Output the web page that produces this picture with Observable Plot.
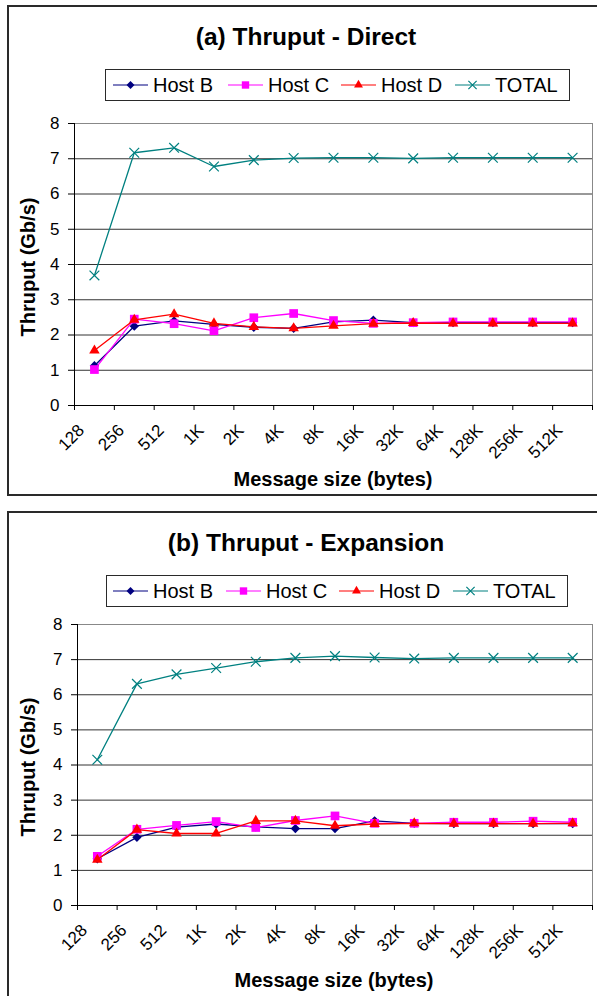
<!DOCTYPE html>
<html>
<head>
<meta charset="utf-8">
<script src="https://cdn.jsdelivr.net/npm/d3@7"></script>
<script src="https://cdn.jsdelivr.net/npm/@observablehq/plot@0.6"></script>
<style>
  html, body { margin: 0; padding: 0; background: #fff; }
  body { width: 597px; height: 996px; overflow: hidden; position: relative; font-family: "Liberation Sans", Arial, sans-serif; color: #000; }
  .panel { position: absolute; left: 7px; width: 600px; border: 2px solid #2a2a2a; box-sizing: border-box; }
  .title { position: absolute; font-weight: bold; font-size: 24.5px; transform: translate(-50%, -50%); white-space: nowrap; }
  .xtitle { position: absolute; font-weight: bold; font-size: 20px; transform: translate(-50%, -50%); white-space: nowrap; }
  .ytitle { position: absolute; font-weight: bold; font-size: 20px; transform: translate(-50%, -50%) rotate(-90deg); white-space: nowrap; }
  .legend { position: absolute; border: 1px solid #2a2a2a; box-sizing: border-box; background: #fff; }
  .entry { position: absolute; top: 0; height: 100%; display: flex; align-items: center; font-size: 20px; white-space: nowrap; }
  .entry svg { margin-right: 5px; }
  .chart { position: absolute; left: 0; }
</style>
</head>
<body>
<div class="panel" style="top:5px;height:491px;"></div>
<div class="panel" style="top:511px;height:500px;"></div>
<div id="root"></div>
<script>
// ---- data ----
const sizes = ["128", "256", "512", "1K", "2K", "4K", "8K", "16K", "32K", "64K", "128K", "256K", "512K"];
const seriesNames = ["Host B", "Host C", "Host D", "TOTAL"];
const seriesColors = ["#000080", "#FF00FF", "#FF0000", "#008080"];
const seriesSymbols = ["diamond2", "square", "triangle", "times"];
const yTicks = [0, 1, 2, 3, 4, 5, 6, 7, 8];

const directTitle = "(a) Thruput - Direct";
const directHostB = [1.13, 2.25, 2.40, 2.30, 2.22, 2.19, 2.37, 2.42, 2.35, 2.35, 2.35, 2.35, 2.35];
const directHostC = [1.02, 2.45, 2.32, 2.12, 2.49, 2.61, 2.41, 2.33, 2.35, 2.37, 2.37, 2.37, 2.37];
const directHostD = [1.56, 2.43, 2.59, 2.33, 2.23, 2.19, 2.26, 2.32, 2.34, 2.33, 2.33, 2.33, 2.33];
const directTotal = [3.69, 7.17, 7.31, 6.78, 6.96, 7.02, 7.03, 7.03, 7.01, 7.03, 7.03, 7.03, 7.03];

const expansionTitle = "(b) Thruput - Expansion";
const expansionHostB = [1.33, 1.94, 2.23, 2.32, 2.24, 2.19, 2.19, 2.41, 2.34, 2.33, 2.33, 2.33, 2.33];
const expansionHostC = [1.40, 2.17, 2.28, 2.39, 2.22, 2.42, 2.55, 2.34, 2.34, 2.37, 2.37, 2.40, 2.37];
const expansionHostD = [1.30, 2.16, 2.05, 2.05, 2.41, 2.41, 2.27, 2.32, 2.34, 2.33, 2.33, 2.33, 2.34];
const expansionTotal = [4.15, 6.31, 6.58, 6.76, 6.94, 7.05, 7.10, 7.06, 7.03, 7.05, 7.05, 7.05, 7.05];

const xTitle = "Message size (bytes)";
const yTitle = "Thruput (Gb/s)";

// ---- helpers ----
const symbolMap = { diamond2: d3.symbolDiamond2, square: d3.symbolSquare, triangle: d3.symbolTriangle, times: d3.symbolTimes };
const symbolR = { diamond2: 4.2, square: 4.9, triangle: 3.9, times: 4.5 };
const strokeSymbols = new Set(["times"]);

function rows(values) { return values.map((v, i) => ({ i, v })); }

function makeChart(seriesValues, m) {
  const xd = [-0.5, sizes.length - 0.5];
  const marks = [
    Plot.gridY({ ticks: yTicks.slice(1), stroke: "#333", strokeOpacity: 1 }),
    Plot.frame({ stroke: "#888" }),
    Plot.ruleX([xd[0]], { stroke: "#000" }),
    Plot.ruleY([yTicks[0]], { stroke: "#000" }),
    Plot.axisY({ ticks: yTicks, tickSize: 6, tickPadding: 9, fontSize: 17, label: null }),
    Plot.axisX({ ticks: d3.range(sizes.length), tickSize: 0, tickPadding: 10, tickRotate: -45, tickFormat: i => sizes[i], fontSize: 17, dx: -13, dy: 12, label: null }),
    Plot.axisX({ ticks: d3.range(sizes.length + 1).map(k => k - 0.5), tickSize: 5, tickFormat: () => "", label: null })
  ];
  const order = [3, 0, 1, 2];
  for (const s of order) {
    const data = rows(seriesValues[s]);
    const sym = seriesSymbols[s];
    marks.push(Plot.line(data, { x: "i", y: "v", stroke: seriesColors[s], strokeWidth: 1.3 }));
    if (strokeSymbols.has(sym)) {
      marks.push(Plot.dot(data, { x: "i", y: "v", symbol: sym, r: symbolR[sym], stroke: seriesColors[s], strokeWidth: 1.2, fill: "none" }));
    } else {
      marks.push(Plot.dot(data, { x: "i", y: "v", symbol: sym, r: symbolR[sym], fill: seriesColors[s], stroke: "none" }));
    }
  }
  return Plot.plot({
    width: 597,
    height: m.height,
    marginTop: m.top,
    marginBottom: m.bottom,
    marginLeft: m.left,
    marginRight: m.right,
    x: { domain: xd, axis: null },
    y: { domain: [yTicks[0], yTicks[yTicks.length - 1]], axis: null },
    style: { fontFamily: "'Liberation Sans', Arial, sans-serif", color: "#000", background: "transparent", overflow: "visible" },
    marks
  });
}

function legendSwatch(s) {
  const w = 35, h = 20;
  const svg = d3.create("svg").attr("width", w).attr("height", h);
  svg.append("line").attr("x1", 0).attr("x2", w).attr("y1", h / 2).attr("y2", h / 2)
    .attr("stroke", seriesColors[s]).attr("stroke-width", 1.2);
  const sym = seriesSymbols[s];
  const size = Math.PI * (symbolR[sym] * 0.85) ** 2;
  const p = svg.append("path").attr("d", d3.symbol(symbolMap[sym], size)())
    .attr("transform", `translate(${w / 2},${h / 2})`);
  if (strokeSymbols.has(sym)) p.attr("fill", "none").attr("stroke", seriesColors[s]).attr("stroke-width", 1.2);
  else p.attr("fill", seriesColors[s]);
  return svg.node();
}

function addPanel(cfg) {
  const root = document.getElementById("root");
  const t = document.createElement("div");
  t.className = "title"; t.textContent = cfg.title;
  t.style.left = cfg.titleX + "px"; t.style.top = cfg.titleY + "px";
  root.appendChild(t);

  const lg = document.createElement("div");
  lg.className = "legend";
  Object.assign(lg.style, { left: cfg.legend.left + "px", top: cfg.legend.top + "px", width: cfg.legend.width + "px", height: cfg.legend.height + "px" });
  seriesNames.forEach((name, s) => {
    const e = document.createElement("div");
    e.className = "entry";
    e.style.left = (cfg.legend.entryX[s] - cfg.legend.left) + "px";
    e.appendChild(legendSwatch(s));
    const sp = document.createElement("span"); sp.textContent = name;
    e.appendChild(sp);
    lg.appendChild(e);
  });
  root.appendChild(lg);

  const c = makeChart(cfg.values, cfg.margins);
  const wrap = document.createElement("div");
  wrap.className = "chart"; wrap.style.top = cfg.chartTop + "px";
  wrap.appendChild(c);
  root.appendChild(wrap);

  const xt = document.createElement("div");
  xt.className = "xtitle"; xt.textContent = xTitle;
  xt.style.left = cfg.xTitlePos[0] + "px"; xt.style.top = cfg.xTitlePos[1] + "px";
  root.appendChild(xt);

  const yt = document.createElement("div");
  yt.className = "ytitle"; yt.textContent = yTitle;
  yt.style.left = cfg.yTitlePos[0] + "px"; yt.style.top = cfg.yTitlePos[1] + "px";
  root.appendChild(yt);
}

addPanel({
  title: directTitle, titleX: 306, titleY: 37,
  legend: { left: 105, top: 69, width: 465, height: 32, entryX: [112, 227, 340, 454] },
  values: [directHostB, directHostC, directHostD, directTotal],
  chartTop: 110,
  margins: { height: 385, top: 13, bottom: 90, left: 74, right: 5 },
  xTitlePos: [333, 479], yTitlePos: [28, 267]
});

addPanel({
  title: expansionTitle, titleX: 306, titleY: 543,
  legend: { left: 106, top: 575, width: 462, height: 32, entryX: [112, 225, 338, 452] },
  values: [expansionHostB, expansionHostC, expansionHostD, expansionTotal],
  chartTop: 611,
  margins: { height: 385, top: 13, bottom: 91, left: 77, right: 5 },
  xTitlePos: [334, 980], yTitlePos: [28, 767]
});
</script>
</body>
</html>
